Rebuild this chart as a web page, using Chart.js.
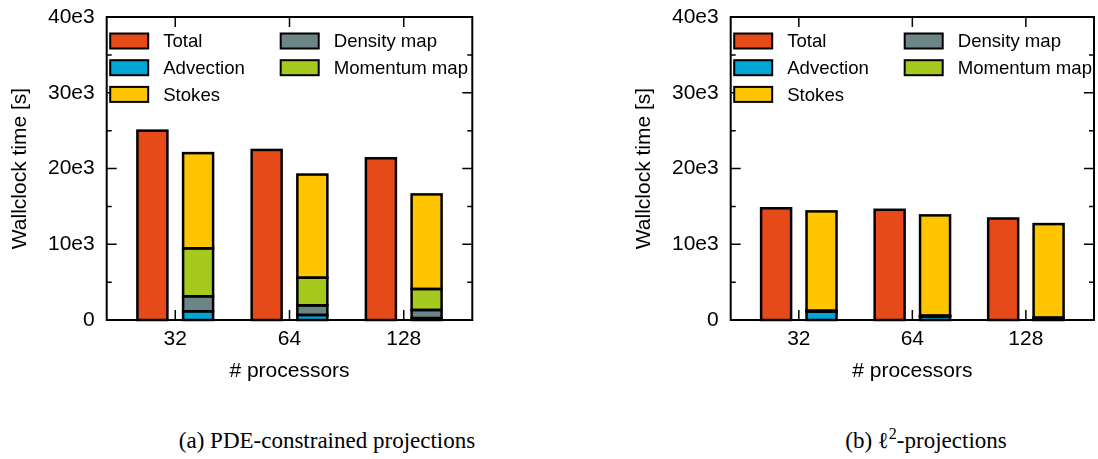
<!DOCTYPE html>
<html>
<head>
<meta charset="utf-8">
<script src="https://cdn.jsdelivr.net/npm/chart.js@4/dist/chart.umd.min.js"></script>
<style>
  html, body { margin: 0; padding: 0; background: #fff; }
  #page { position: relative; width: 1098px; height: 459px; overflow: hidden; }
  .panel { position: absolute; top: 0; width: 549px; height: 400px; }
  .cap {
    position: absolute; top: 426px; height: 30px; line-height: 30px;
    font-family: "Liberation Serif", "Times New Roman", serif; font-size: 23px;
    color: #000; white-space: nowrap; transform: translateX(-50%);
  }
  .sup { font-size: 16px; position: relative; top: -9px; }
</style>
</head>
<body>
<div id="page">
  <div class="panel" style="left:0"><canvas id="pde"></canvas></div>
  <div class="panel" style="left:549px"><canvas id="l2"></canvas></div>
  <div class="cap" style="left:327px">(a) PDE-constrained projections</div>
  <div class="cap" style="left:926px">(b) ℓ<span class="sup">2</span>-projections</div>
</div>
<script>
// Processor counts on the x axis
const procs = ['32', '64', '128'];

// Series: the first is the total bar, the rest stack bottom to top
const seriesNames  = ['Total', 'Advection', 'Density map', 'Momentum map', 'Stokes'];
const seriesColors = ['#E64A19', '#00A6D6', '#6E8587', '#A5C91C', '#FFC500'];

// Wallclock times [s], PDE-constrained projections
const pdeTotal     = [25000, 22450, 21350];
const pdeAdvection = [1150, 660, 250];
const pdeDensity   = [1980, 1270, 1070];
const pdeMomentum  = [6330, 3650, 2770];
const pdeStokes    = [12570, 13620, 12490];

// Wallclock times [s], l2-projections
const l2Total      = [14750, 14550, 13400];
const l2Advection  = [1100, 450, 200];
const l2Density    = [60, 60, 50];
const l2Momentum   = [60, 60, 50];
const l2Stokes     = [13120, 13240, 12360];

// Y axis ticks (every 5e3, labelled every 10e3)
const yTicks      = [0, 10000, 20000, 30000, 40000];
const yTickLabels = ['0', '10e3', '20e3', '30e3', '40e3'];

// Legend columns (indices into seriesNames)
const legendColumns = [[0, 1, 4], [2, 3]];

Chart.defaults.font.family = '"Liberation Sans", Arial, Helvetica, sans-serif';
Chart.defaults.color = '#000';

function buildDatasets(series) {
  return series.map((vals, s) => ({
    label: seriesNames[s],
    data: vals.map((v, i) => ({ x: i + (s === 0 ? -0.2 : 0.2), y: v })),
    backgroundColor: seriesColors[s],
    borderWidth: 0,
    barThickness: 30,
    grouped: false
  }));
}

const framePlugin = {
  id: 'frame',
  afterDatasetsDraw(chart) {
    // outline every bar segment, centred on its edges
    const ctx = chart.ctx;
    ctx.save();
    ctx.strokeStyle = '#000';
    ctx.lineWidth = 2.5;
    chart.data.datasets.forEach((ds, i) => {
      chart.getDatasetMeta(i).data.forEach(bar => {
        const p = bar.getProps(['x', 'y', 'base', 'width'], true);
        ctx.strokeRect(p.x - p.width / 2, Math.min(p.y, p.base), p.width, Math.abs(p.base - p.y));
      });
    });
    ctx.restore();
  },
  afterDraw(chart) {
    const ctx = chart.ctx;
    const ca = chart.chartArea;
    const xs = chart.scales.x, ys = chart.scales.y;
    ctx.save();
    ctx.strokeStyle = '#000';
    // inward ticks
    ctx.lineWidth = 1.5;
    ctx.beginPath();
    ys.ticks.forEach(t => {
      if (t.value <= ys.min || t.value >= ys.max) return;
      const py = ys.getPixelForValue(t.value);
      const len = yTicks.includes(t.value) ? 10 : 5;
      ctx.moveTo(ca.left, py); ctx.lineTo(ca.left + len, py);
      ctx.moveTo(ca.right, py); ctx.lineTo(ca.right - len, py);
    });
    xs.ticks.forEach(t => {
      const px = xs.getPixelForValue(t.value);
      ctx.moveTo(px, ca.bottom); ctx.lineTo(px, ca.bottom - 10);
      ctx.moveTo(px, ca.top); ctx.lineTo(px, ca.top + 10);
    });
    ctx.stroke();
    // plot frame
    ctx.lineWidth = 2;
    ctx.strokeRect(ca.left, ca.top, ca.right - ca.left, ca.bottom - ca.top);

    // legend
    const boxW = 38, boxH = 15, rowH = 26.7;
    const colX = [3.5, 174];
    ctx.font = '18.6px "Liberation Sans", Arial, sans-serif';
    ctx.textBaseline = 'middle';
    ctx.textAlign = 'left';
    legendColumns.forEach((col, c) => {
      col.forEach((s, r) => {
        const bx = ca.left + colX[c];
        const by = ca.top + 16.5 + r * rowH;
        ctx.fillStyle = seriesColors[s];
        ctx.fillRect(bx, by, boxW, boxH);
        ctx.lineWidth = 2;
        ctx.strokeRect(bx, by, boxW, boxH);
        ctx.fillStyle = '#000';
        ctx.fillText(seriesNames[s], bx + 53, by + boxH / 2 + 1);
      });
    });
    ctx.restore();
  }
};

function makeChart(id, series, padLeft, padRight) {
  return new Chart(document.getElementById(id), {
    type: 'bar',
    data: { datasets: buildDatasets(series) },
    plugins: [framePlugin],
    options: {
      responsive: true,
      maintainAspectRatio: false,
      animation: false,
      layout: { padding: { top: 17, left: padLeft, right: padRight, bottom: 16 } },
      plugins: { legend: { display: false }, tooltip: { enabled: false } },
      scales: {
        x: {
          type: 'linear', min: -0.6, max: 2.6, offset: false,
          grid: { display: false, drawTicks: false },
          border: { display: false },
          afterBuildTicks: s => { s.ticks = procs.map((_, i) => ({ value: i })); },
          ticks: {
            padding: 7, font: { size: 21 }, maxRotation: 0, autoSkip: false,
            callback: v => procs[v] ?? ''
          },
          title: { display: true, text: '# processors', font: { size: 21 }, padding: { top: 0, bottom: 0 } },
          afterFit: s => { s.height = 64; s.paddingLeft = 0; s.paddingRight = 0; }
        },
        y: {
          min: 0, max: 40000, stacked: true,
          grid: { display: false, drawTicks: false },
          border: { display: false },
          ticks: {
            stepSize: 5000, padding: 12, font: { size: 21 }, autoSkip: false,
            callback: v => { const k = yTicks.indexOf(v); return k < 0 ? '' : yTickLabels[k]; }
          },
          title: { display: true, text: 'Wallclock time [s]', font: { size: 21 }, padding: { top: 8, bottom: 0 } },
          afterFit: s => { s.width = 106.7; s.paddingTop = 0; s.paddingBottom = 0; }
        }
      }
    }
  });
}

makeChart('pde', [pdeTotal, pdeAdvection, pdeDensity, pdeMomentum, pdeStokes], 0, 76.7);
makeChart('l2', [l2Total, l2Advection, l2Density, l2Momentum, l2Stokes], 75, 4);
</script>
</body>
</html>
